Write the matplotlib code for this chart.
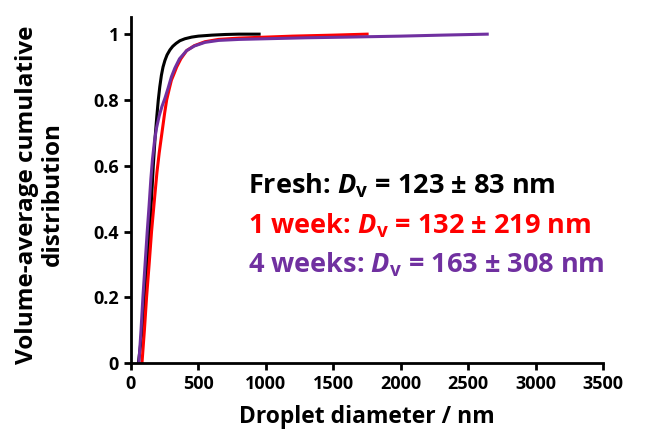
import matplotlib

matplotlib.use("Agg")
import matplotlib.pyplot as plt

# cumulative volume distributions (diameter in nm)
FRESH_X = [55, 70, 90, 110, 130, 150, 166, 180, 192, 203, 214, 226, 238, 252, 268, 289,
           310, 335, 363, 400, 450, 500, 600, 700, 800, 950]
FRESH_Y = [0, 0.05, 0.13, 0.23, 0.35, 0.48, 0.6, 0.69, 0.75, 0.8, 0.84, 0.875, 0.9, 0.92,
           0.937, 0.952, 0.963, 0.972, 0.98, 0.986, 0.991, 0.994, 0.997, 0.999, 1.0, 1.0]

WEEK1_X = [82, 100, 116, 135, 153, 175, 193, 210, 230, 250, 265, 285, 300, 320, 339, 370,
           413, 470, 549, 650, 800, 1000, 1200, 1500, 1750]
WEEK1_Y = [0, 0.1, 0.2, 0.3, 0.4, 0.5, 0.58, 0.64, 0.7, 0.76, 0.8, 0.835, 0.86, 0.88, 0.9,
           0.925, 0.95, 0.965, 0.977, 0.984, 0.988, 0.991, 0.994, 0.997, 1.0]

WEEK4_X = [59, 75, 89, 105, 121, 135, 148, 160, 175, 190, 210, 230, 252, 275, 300, 326,
           360, 413, 470, 549, 650, 800, 1000, 1300, 1600, 2000, 2300, 2640]
WEEK4_Y = [0, 0.1, 0.2, 0.3, 0.4, 0.48, 0.56, 0.62, 0.675, 0.715, 0.752, 0.78, 0.805, 0.835,
           0.87, 0.897, 0.925, 0.95, 0.964, 0.975, 0.981, 0.984, 0.986, 0.989, 0.991, 0.994,
           0.997, 1.0]

LABELS = [
    ("Fresh: ", "123 ± 83 nm", "black"),
    ("1 week: ", "132 ± 219 nm", "#ff0000"),
    ("4 weeks: ", "163 ± 308 nm", "#7030a0"),
]

plt.rcParams["font.family"] = "Open Sans"
plt.rcParams["mathtext.fontset"] = "custom"
plt.rcParams["mathtext.rm"] = "Open Sans:bold"
plt.rcParams["mathtext.bfit"] = "Open Sans:italic:bold"
plt.rcParams["mathtext.it"] = "Open Sans:italic:bold"

fig = plt.figure(figsize=(6.48, 4.37), dpi=100)
ax = fig.add_axes([0.202, 0.169, 0.729, 0.792])

ax.plot(FRESH_X, FRESH_Y, color="black", lw=2.2)
ax.plot(WEEK1_X, WEEK1_Y, color="#ff0000", lw=2.2)
ax.plot(WEEK4_X, WEEK4_Y, color="#7030a0", lw=2.2)

ax.set_xlim(0, 3500)
ax.set_ylim(0, 1.052)
ax.set_xticks(range(0, 3501, 500))
ax.set_yticks([0, 0.2, 0.4, 0.6, 0.8, 1.0])
ax.set_yticklabels(["0", "0.2", "0.4", "0.6", "0.8", "1"])
for side in ("top", "right"):
    ax.spines[side].set_visible(False)
for side in ("left", "bottom"):
    ax.spines[side].set_linewidth(2)
ax.tick_params(direction="out", length=5, width=2, labelsize=13)
for lab in ax.get_xticklabels() + ax.get_yticklabels():
    lab.set_fontweight("bold")

ax.set_xlabel("Droplet diameter / nm", fontsize=16.5, fontweight="bold", labelpad=9)
fig.text(0.062, 0.555, "Volume-average cumulative\ndistribution", rotation=90,
         ha="center", va="center", multialignment="center",
         fontsize=17.5, fontweight="bold", linespacing=1.1)

for i, (name, val, col) in enumerate(LABELS):
    ax.text(0.248, 0.49 - i * 0.114,
            name + r"$\mathbfit{D}_{\mathrm{v}}$" + " = " + val,
            transform=ax.transAxes, color=col, fontsize=19.5, fontweight="bold",
            ha="left", va="baseline")

fig.savefig("out.png", dpi=100)
